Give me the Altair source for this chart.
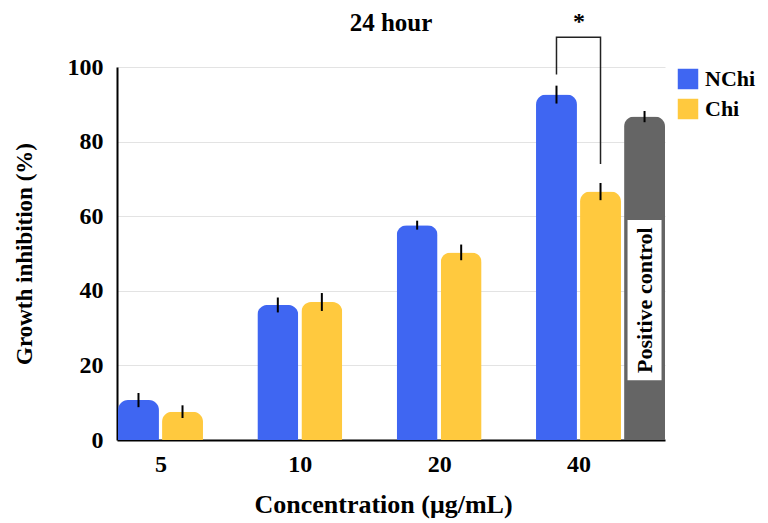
import altair as alt
import pandas as pd

concentrations = ["5", "10", "20", "40"]
series_names = ["NChi", "Chi", "Positive control"]
nchi_values = [10.7, 36.2, 57.6, 92.6]
nchi_errors = [1.9, 2.0, 1.2, 2.4]
chi_values = [7.6, 37.0, 50.3, 66.6]
chi_errors = [1.7, 2.4, 2.1, 2.3]
pc_concentration = "40"
pc_value = 86.7
pc_error = 1.5
y_ticks = [0, 20, 40, 60, 80, 100]

# annotations
pc_box = (16, 59)
pc_text_y = 37.5
bracket_series = ["NChi", "NChi", "Chi", "Chi"]
bracket_y = [98, 108, 108, 74]
star_y = 110.3

colors = ["#3F66F2", "#FFC93E", "#656565"]
FONT = "Liberation Serif"

rows = []
for c, v, e in zip(concentrations, nchi_values, nchi_errors):
    rows.append({"conc": c, "series": "NChi", "value": v, "lo": v - e, "hi": v + e})
for c, v, e in zip(concentrations, chi_values, chi_errors):
    rows.append({"conc": c, "series": "Chi", "value": v, "lo": v - e, "hi": v + e})
rows.append({"conc": pc_concentration, "series": "Positive control", "value": pc_value,
             "lo": pc_value - pc_error, "hi": pc_value + pc_error})
df = pd.DataFrame(rows)

x_scale = alt.Scale(domain=concentrations, paddingInner=0.383, paddingOuter=0.158, align=0.023)
off_scale = alt.Scale(domain=series_names, range=[0, 129], paddingInner=0.07, paddingOuter=0)
y_scale = alt.Scale(domain=[0, 100], nice=False)

x_enc = alt.X("conc:N", sort=concentrations, scale=x_scale,
              axis=alt.Axis(title="Concentration (μg/mL)", labelAngle=0, ticks=False,
                            labelFont=FONT, labelFontSize=24, labelFontWeight="bold",
                            labelColor="black", labelPadding=12,
                            titleFont=FONT, titleFontSize=26, titleFontWeight="bold",
                            titleColor="black", titlePadding=15, titleX=266,
                            domainColor="black", domainWidth=2))
off_enc = alt.XOffset("series:N", scale=off_scale)
y_enc = alt.Y("value:Q", scale=y_scale,
              axis=alt.Axis(title="Growth inhibition (%)", values=y_ticks, ticks=False,
                            grid=True, gridColor="#e3e3e3", gridWidth=1,
                            labelFont=FONT, labelFontSize=24, labelFontWeight="bold",
                            labelColor="black", labelPadding=14,
                            titleFont=FONT, titleFontSize=23, titleFontWeight="bold",
                            titleColor="black", titlePadding=31,
                            domainColor="black", domainWidth=2))

base = alt.Chart(df)

bars = base.mark_bar(cornerRadiusTopLeft=10, cornerRadiusTopRight=10).encode(
    x=x_enc,
    xOffset=off_enc,
    y=y_enc,
    color=alt.Color("series:N",
                    scale=alt.Scale(domain=series_names, range=colors),
                    legend=alt.Legend(title=None, values=["NChi", "Chi"], orient="none",
                                      legendX=560, legendY=1, symbolType="square",
                                      symbolSize=420, symbolStrokeWidth=0, symbolOpacity=1,
                                      labelFont=FONT, labelFontSize=22, labelFontWeight="bold",
                                      labelColor="black", rowPadding=8, labelOffset=6)),
)

errs = base.mark_rule(color="black", strokeWidth=2).encode(
    x=alt.X("conc:N", sort=concentrations, scale=x_scale),
    xOffset=off_enc,
    y=alt.Y("lo:Q", scale=y_scale),
    y2="hi:Q",
)

box_df = pd.DataFrame([{"conc": pc_concentration, "series": "Positive control",
                        "lo": pc_box[0], "hi": pc_box[1], "mid": pc_text_y,
                        "label": "Positive control"}])
box = alt.Chart(box_df).mark_rect(color="white", width=34).encode(
    x=alt.X("conc:N", sort=concentrations, scale=x_scale),
    xOffset=off_enc,
    y=alt.Y("lo:Q", scale=y_scale),
    y2="hi:Q",
)
box_text = alt.Chart(box_df).mark_text(angle=270, font=FONT, fontSize=22, fontWeight="bold",
                                       color="black", baseline="middle", align="center").encode(
    x=alt.X("conc:N", sort=concentrations, scale=x_scale),
    xOffset=off_enc,
    y=alt.Y("mid:Q", scale=y_scale),
    text="label:N",
)

br_df = pd.DataFrame({"conc": [pc_concentration] * 4, "series": bracket_series,
                      "y": bracket_y, "order": list(range(4))})
bracket = alt.Chart(br_df).mark_line(color="#222222", strokeWidth=1.5, clip=False).encode(
    x=alt.X("conc:N", sort=concentrations, scale=x_scale),
    xOffset=off_enc,
    y=alt.Y("y:Q", scale=y_scale),
    order="order:Q",
)

star_df = pd.DataFrame([{"conc": pc_concentration, "y": star_y, "t": "*"}])
star = alt.Chart(star_df).mark_text(font=FONT, fontSize=24, fontWeight="bold", color="black",
                                    baseline="alphabetic").encode(
    x=alt.X("conc:N", sort=concentrations, scale=x_scale),
    y=alt.Y("y:Q", scale=y_scale),
    text="t:N",
)

chart = alt.layer(bars, errs, box, box_text, bracket, star).properties(
    width=548, height=373,
    title=alt.TitleParams("24 hour", font=FONT, fontSize=25, fontWeight="bold",
                          anchor="middle", frame="group", offset=-26, color="black"),
    autosize=alt.AutoSizeParams(type="none"),
    padding={"left": 109, "top": 59, "right": 95, "bottom": 80},
).configure_view(stroke=None)

chart.save("out.html", embed_options={"renderer": "svg", "actions": False})
